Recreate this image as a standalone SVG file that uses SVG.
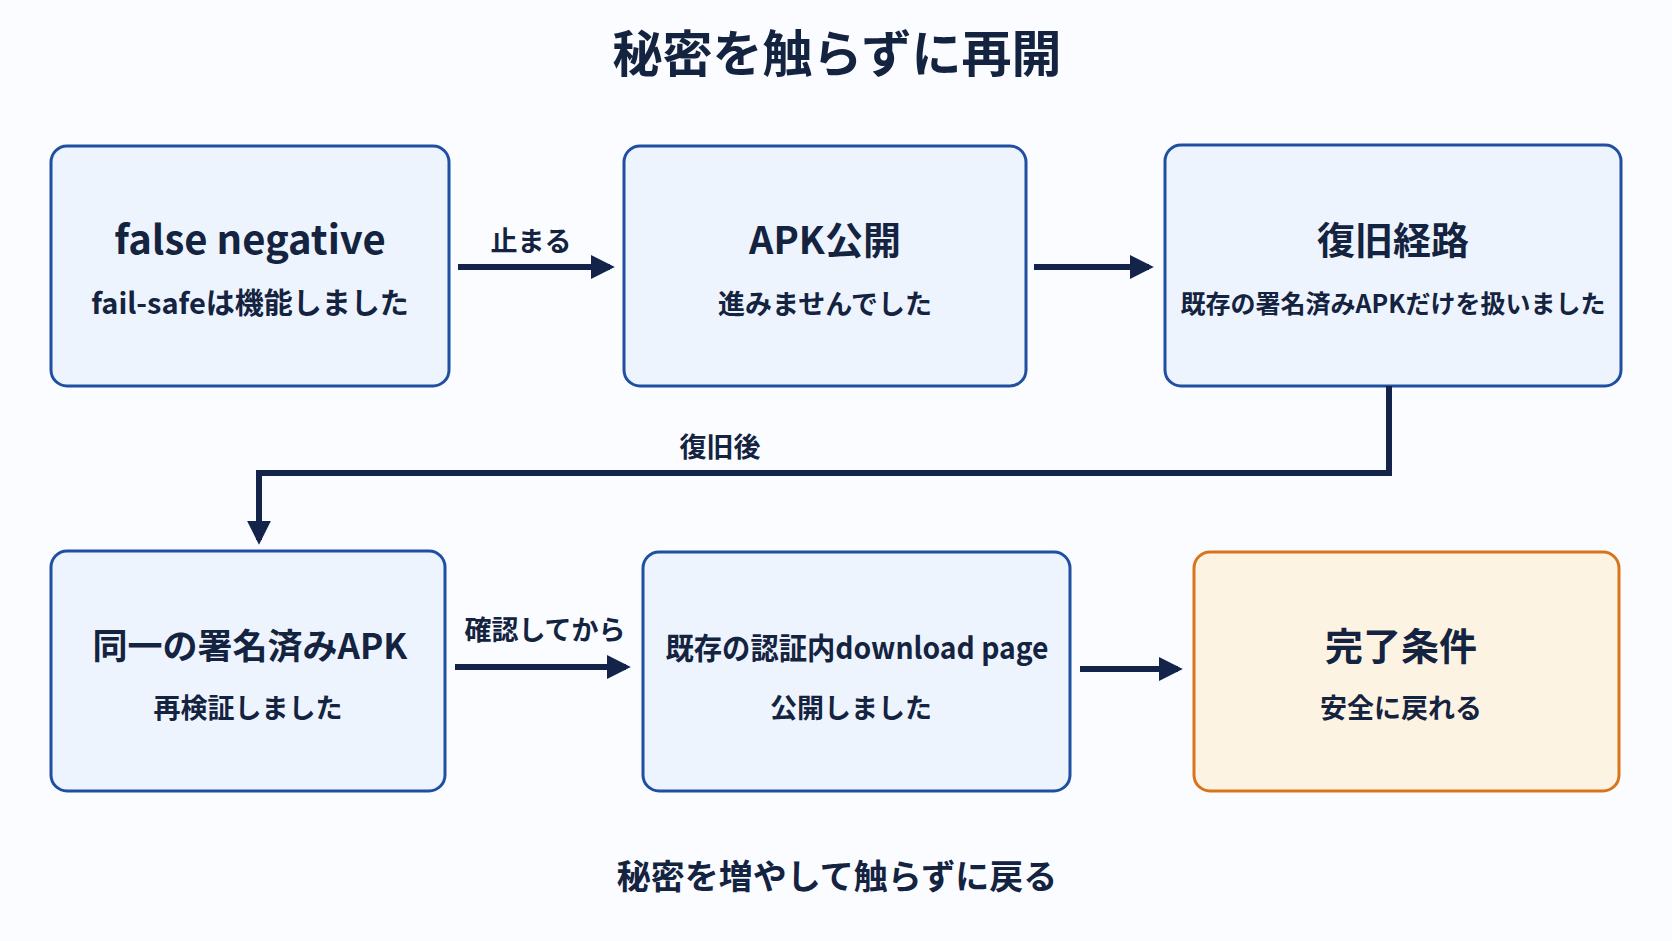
<svg xmlns="http://www.w3.org/2000/svg" width="1672" height="941" viewBox="0 0 1672 941">
<defs>
<style>
text{font-family:"Noto Sans CJK JP","Noto Sans",sans-serif;fill:#14233f;text-anchor:middle;font-weight:bold}
.box{fill:#eef4fd;stroke:#1f4fa0;stroke-width:3}
.ok{fill:#fdf3e3;stroke:#d9741a;stroke-width:3}
.t{font-size:38px}.s{font-size:27px;font-weight:600}.l{font-size:26px;font-weight:600}
.c{fill:none;stroke:#13234a;stroke-width:6}
</style>
<marker id="a" viewBox="0 0 10 10" refX="8" refY="5" markerWidth="4" markerHeight="4.5" orient="auto" markerUnits="strokeWidth"><path d="M0,0L10,5L0,10z" fill="#13234a"/></marker>
</defs>
<rect width="1672" height="941" fill="#fafcff"/>
<text x="837" y="72" style="font-size:50px">秘密を触らずに再開</text>
<g id="n1"><rect class="box" x="51" y="146" width="398" height="240" rx="16"/><text class="t" x="250" y="254" style="font-size:40px">false negative</text><text class="s" x="250" y="314" style="font-size:29px">fail-safeは機能しました</text></g>
<g id="n2"><rect class="box" x="624" y="146" width="402" height="240" rx="16"/><text class="t" x="825" y="254">APK公開</text><text class="s" x="825" y="314">進みませんでした</text></g>
<g id="n3"><rect class="box" x="1165" y="145" width="456" height="241" rx="16"/><text class="t" x="1393" y="254">復旧経路</text><text class="s" x="1393" y="313" style="font-size:25px">既存の署名済みAPKだけを扱いました</text></g>
<g id="n4"><rect class="box" x="51" y="551" width="394" height="240" rx="16"/><text class="t" x="250" y="659" style="font-size:35px">同一の署名済みAPK</text><text class="s" x="248" y="718">再検証しました</text></g>
<g id="n5"><rect class="box" x="643" y="552" width="427" height="239" rx="16"/><text class="s" x="857" y="659" style="font-size:30px" textLength="383" lengthAdjust="spacingAndGlyphs">既存の認証内download page</text><text class="s" x="851" y="718">公開しました</text></g>
<g id="n6"><rect class="ok" x="1194" y="552" width="425" height="239" rx="16"/><text class="t" x="1401" y="660">完了条件</text><text class="s" x="1401" y="718">安全に戻れる</text></g>
<g id="connectors">
<path class="c" d="M458,267H610" marker-end="url(#a)"/>
<path class="c" d="M1034,267H1149" marker-end="url(#a)"/>
<path class="c" d="M1389,386V473H259V540" marker-end="url(#a)"/>
<path class="c" d="M455,667H626" marker-end="url(#a)"/>
<path class="c" d="M1080,669H1178" marker-end="url(#a)"/>
</g>
<text class="l" x="531" y="251" style="font-size:27px">止まる</text>
<text class="l" x="720" y="457" style="font-size:27px">復旧後</text>
<text class="l" x="545" y="640" style="font-size:27px">確認してから</text>
<text x="837" y="889" style="font-size:34px">秘密を増やして触らずに戻る</text>
</svg>
